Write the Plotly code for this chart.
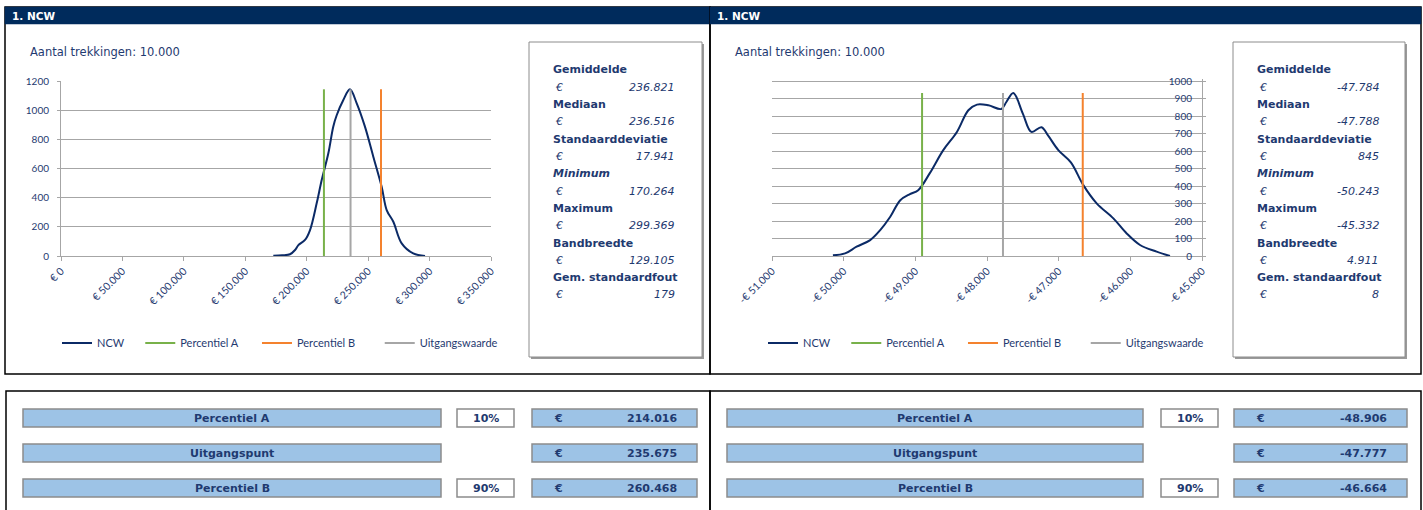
import plotly.graph_objects as go

W, H = 1423, 510

# ---------------- data ----------------
left_x = [172800, 180000, 186400, 190500, 193200, 198600, 202700, 208100, 212200, 217600,
          221600, 224400, 229800, 235200, 240700, 247400, 254200, 261000, 265100, 270500,
          277300, 286700, 296300]
left_y = [2, 5, 12, 41, 75, 110, 178, 361, 521, 704, 887, 965, 1070, 1143, 1047, 887, 681,
          475, 315, 235, 87, 18, 0]

right_x = [-50150, -49980, -49820, -49630, -49490, -49350, -49210, -49075, -48960, -48800,
           -48610, -48420, -48260, -48140, -47980, -47800, -47730, -47633, -47500, -47380,
           -47240, -47144, -47005, -46830, -46656, -46470, -46237, -46051, -45865, -45633,
           -45447]
right_y = [4, 15, 53, 91, 148, 224, 319, 354, 376, 472, 605, 709, 833, 865, 861, 840, 880,
           932, 814, 709, 736, 686, 605, 535, 405, 301, 215, 129, 63, 25, 0]

left_pct = {"Percentiel A": 214016, "Percentiel B": 260468, "Uitgangswaarde": 235675}
right_pct = {"Percentiel A": -48906, "Percentiel B": -46664, "Uitgangswaarde": -47777}

left_tickvals = [0, 50000, 100000, 150000, 200000, 250000, 300000, 350000]
left_ticktext = ["€ 0", "€ 50.000", "€ 100.000", "€ 150.000", "€ 200.000", "€ 250.000",
                 "€ 300.000", "€ 350.000"]
right_tickvals = [-51000, -50000, -49000, -48000, -47000, -46000, -45000]
right_ticktext = ["-€ 51.000", "-€ 50.000", "-€ 49.000", "-€ 48.000", "-€ 47.000",
                  "-€ 46.000", "-€ 45.000"]

stat_labels = ["Gemiddelde", "Mediaan", "Standaarddeviatie", "Minimum", "Maximum",
               "Bandbreedte", "Gem. standaardfout"]
left_stats = ["236.821", "236.516", "17.941", "170.264", "299.369", "129.105", "179"]
right_stats = ["-47.784", "-47.788", "845", "-50.243", "-45.332", "4.911", "8"]

row_labels = ["Percentiel A", "Uitgangspunt", "Percentiel B"]
row_pcts = ["10%", "", "90%"]
left_rows = ["214.016", "235.675", "260.468"]
right_rows = ["-48.906", "-47.777", "-46.664"]

header = "1. NCW"
subtitle = "Aantal trekkingen: 10.000"

# ---------------- styles ----------------
NAVY_T = "#1F3A70"
CURVE = "#0B2A66"
GREEN = "#78B14A"
ORANGE = "#F4822E"
GRAYL = "#A6A6A6"
HEAD = "#002B5C"
BLUE = "#9DC3E6"
CELLF = "DejaVu Sans"
CHARTF = "Lato"


def X(p):
    return p / W


def Y(p):
    return 1 - p / H


fig = go.Figure()

line_colors = {"Percentiel A": GREEN, "Percentiel B": ORANGE, "Uitgangswaarde": GRAYL}
pads = {"NCW": 4, "Percentiel A": 5, "Percentiel B": 7, "Uitgangswaarde": 0}


def add_panel(xs, ys, pct, xa, ya, leg):
    fig.add_trace(go.Scatter(x=xs, y=ys, mode="lines", line=dict(color=CURVE, width=2, shape="spline"),
                             name="NCW" + "\u00a0" * pads["NCW"], xaxis=xa, yaxis=ya, legend=leg,
                             hoverinfo="skip"))
    top = max(ys)
    for k in ["Percentiel A", "Percentiel B", "Uitgangswaarde"]:
        fig.add_trace(go.Scatter(x=[pct[k], pct[k]], y=[0, top], mode="lines",
                                 line=dict(color=line_colors[k], width=2),
                                 name=k + "\u00a0" * pads[k], xaxis=xa, yaxis=ya, legend=leg,
                                 hoverinfo="skip"))


add_panel(left_x, left_y, left_pct, "x", "y", "legend")
add_panel(right_x, right_y, right_pct, "x2", "y2", "legend2")
# empty traces so that the helper axes of the right chart are drawn
for ya in ["y3", "y4"]:
    fig.add_trace(go.Scatter(x=[None], y=[None], xaxis="x2", yaxis=ya, showlegend=False,
                             hoverinfo="skip"))

shapes = []
annots = []


def rect(x0, y0, x1, y1, fill=None, lc=None, lw=1, layer="below"):
    d = dict(type="rect", xref="paper", yref="paper", x0=X(x0), x1=X(x1), y0=Y(y1), y1=Y(y0),
             layer=layer, line=dict(width=lw if lc else 0, color=lc or "rgba(0,0,0,0)"))
    if fill:
        d["fillcolor"] = fill
    shapes.append(d)


def text(x, y, s, size=11, color=NAVY_T, anchor="left", bold=False, italic=False, family=CELLF):
    if bold:
        s = "<b>" + s + "</b>"
    if italic:
        s = "<i>" + s + "</i>"
    annots.append(dict(x=X(x), y=Y(y), xref="paper", yref="paper", text=s, showarrow=False,
                       xanchor=anchor, yanchor="middle", font=dict(family=family, size=size, color=color)))


# top panels
for (x0, x1, tx) in [(5, 710, 10), (710, 1421, 715)]:
    rect(x0, 7, x1, 374, lc="#000000", lw=1.5)
    rect(x0, 7, x1, 24, fill=HEAD, lc=HEAD, lw=0.5)
    text(tx, 15.5, header, size=10.5, color="#FFFFFF", bold=True)
    text(tx + 18, 52, subtitle, size=11.5, family=CELLF)

# stats boxes
for (bx0, bx1, lx, vx, vals) in [(529, 702, 551, 677, left_stats), (1233, 1405, 1255, 1381, right_stats)]:
    rect(bx0 + 2, 44, bx1 + 2, 359, fill="#9A9A9A")
    rect(bx0, 42, bx1, 357, fill="#FFFFFF", lc="#8C8C8C", lw=1)
    for i, lab in enumerate(stat_labels):
        yl = 70 + i * 34.6
        text(lx, yl, lab, size=11, bold=True, italic=(lab == "Minimum"))
        text(lx + 2, yl + 17.3, "€", size=11, italic=True)
        text(vx, yl + 17.3, vals[i], size=11, italic=True, anchor="right")

# bottom panels
for (x0, x1) in [(6, 710), (710, 1421)]:
    rect(x0, 391, x1, 530, lc="#000000", lw=1.5)

for (nb0, nb1, pb0, pb1, vb0, vb1, vals) in [(23, 441, 457, 514, 532, 697, left_rows),
                                             (727, 1143, 1161, 1218, 1234, 1407, right_rows)]:
    for i, lab in enumerate(row_labels):
        yc = 418 + i * 35
        rect(nb0, yc - 9, nb1, yc + 9, fill=BLUE, lc="#8C8C8C", lw=1.5)
        text((nb0 + nb1) / 2, yc, lab, size=11, bold=True, anchor="center")
        if row_pcts[i]:
            rect(pb0, yc - 9, pb1, yc + 9, fill="#FFFFFF", lc="#8C8C8C", lw=1.5)
            text((pb0 + pb1) / 2, yc, row_pcts[i], size=11, bold=True, anchor="center")
        rect(vb0, yc - 9, vb1, yc + 9, fill=BLUE, lc="#8C8C8C", lw=1.5)
        text(vb0 + 20, yc, "€", size=11, bold=True)
        text(vb1 - 18, yc, vals[i], size=11, bold=True, anchor="right")

axis_common = dict(showline=True, linecolor=GRAYL, linewidth=1, zeroline=False, fixedrange=True,
                   automargin=False)
tickfont_x = dict(family=CHARTF, size=10.5, color=NAVY_T)
tickfont_y = dict(family=CHARTF, size=10, color=NAVY_T)
legfont = dict(family=CHARTF, size=11, color=NAVY_T)

# right chart: 0..1000 spans 256 -> 81 px; range top padded slightly so the 1000 grid line shows
R_TOP = 1010
r_top_px = 256 - (256 - 81) * R_TOP / 1000

fig.update_layout(
    width=W, height=H, margin=dict(l=0, r=0, t=0, b=0, pad=0, autoexpand=False),
    paper_bgcolor="#FFFFFF", plot_bgcolor="rgba(0,0,0,0)",
    shapes=shapes, annotations=annots,
    xaxis=dict(domain=[X(61), X(491)], range=[0, 350000], tickvals=left_tickvals,
               ticktext=left_ticktext, tickangle=-45, ticks="outside", ticklen=4, tickcolor=GRAYL,
               showgrid=False, anchor="y", tickfont=tickfont_x, **axis_common),
    yaxis=dict(domain=[Y(256), Y(81)], range=[0, 1200], dtick=200, tick0=0, ticks="outside",
               ticklen=3, tickcolor=GRAYL, showgrid=True, gridcolor=GRAYL, gridwidth=1, anchor="x",
               ticklabelstandoff=6, tickfont=tickfont_y, **axis_common),
    xaxis2=dict(domain=[X(772), X(1202)], range=[-51000, -45000], tickvals=right_tickvals,
                ticktext=right_ticktext, tickangle=-45, ticks="outside", ticklen=4, tickcolor=GRAYL,
                showgrid=False, anchor="y2", tickfont=tickfont_x, **axis_common),
    # right chart: grid axis
    yaxis2=dict(domain=[Y(256), Y(r_top_px)], range=[0, R_TOP], dtick=100, tick0=0, side="left",
                showticklabels=False, ticks="", showline=False, showgrid=True, gridcolor=GRAYL,
                gridwidth=1, anchor="x2", zeroline=False, fixedrange=True, automargin=False),
    # right chart: axis line + tick marks on the right
    yaxis3=dict(overlaying="y2", range=[0, R_TOP], dtick=100, tick0=0, side="right", anchor="x2",
                showticklabels=False, ticks="outside", ticklen=3, tickcolor=GRAYL,
                showgrid=False, **axis_common),
    # right chart: value labels just left of the right axis
    yaxis4=dict(overlaying="y2", range=[0, R_TOP], dtick=100, tick0=0, side="left",
                anchor="free", position=X(1192), showline=False, ticks="", showgrid=False,
                zeroline=False, automargin=False, fixedrange=True, tickfont=tickfont_y),
    legend=dict(orientation="h", x=X(57), y=Y(343), xanchor="left", yanchor="middle",
                font=legfont, bgcolor="rgba(0,0,0,0)", itemwidth=30, tracegroupgap=0),
    legend2=dict(orientation="h", x=X(763), y=Y(343), xanchor="left", yanchor="middle",
                 font=legfont, bgcolor="rgba(0,0,0,0)", itemwidth=30, tracegroupgap=0),
    showlegend=True,
)

fig.write_html("out.html", config={"displayModeBar": False},
               post_script="document.body.style.margin='0px';")
